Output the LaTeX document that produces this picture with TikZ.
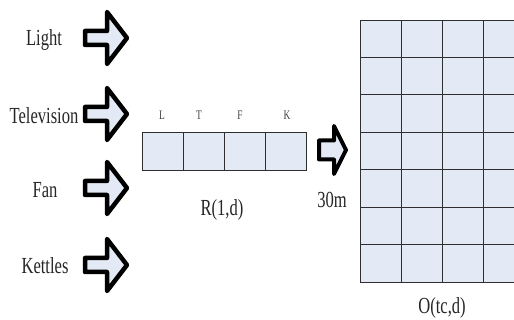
\documentclass[tikz,border=0pt]{standalone}
\usepackage{fontspec}
\setmainfont{Liberation Serif}
\definecolor{cellfill}{HTML}{E4EAF5}
\definecolor{gridline}{HTML}{2E2E2E}
\newcommand{\cond}[1]{\scalebox{0.72}[1]{#1}}
\begin{document}
\begin{tikzpicture}[x=1pt,y=-1pt,
  lbl/.style={inner sep=0pt, font=\fontsize{23}{23}\selectfont, text=black!85},
  small/.style={inner sep=0pt, font=\fontsize{13}{13}\selectfont, text=black!75},
  cell/.style={draw=gridline, fill=cellfill, line width=0.9pt, minimum width=41pt, inner sep=0pt, outer sep=0pt},
  arrowstyle/.style={draw=black, fill=cellfill, line width=4.5pt, line join=round},
  pics/bigarrow/.style={code={
    \draw[arrowstyle] (0,-7) -- (22,-7) -- (22,-26) -- (42,0) -- (22,26) -- (22,7) -- (0,7) -- cycle;}},
  pics/smallarrow/.style={code={
    \draw[arrowstyle, line width=4pt] (0,-9.5) -- (15,-9.5) -- (15,-24) -- (27,0) -- (15,24) -- (15,9.5) -- (0,9.5) -- cycle;}}
]
\useasboundingbox (0,0) rectangle (514,320);
\clip (0,0) rectangle (514,320);
\fill[white] (0,0) rectangle (514,320);

% labels left
\node[lbl] (light) at (44,40) {\cond{Light}};
\node[lbl] (tv) at (44,116) {\cond{Television}};
\node[lbl] (fan) at (45,190) {\cond{Fan}};
\node[lbl] (kettles) at (45,266) {\cond{Kettles}};

% block arrows
\pic at (85,38) {bigarrow};
\pic at (85,114) {bigarrow};
\pic at (85,188) {bigarrow};
\pic at (85,265) {bigarrow};

% R grid
\foreach \i/\lab/\lx in {0/L/162,1/T/199,2/F/240,3/K/287} {
  \node[cell, minimum height=38pt, anchor=north west] (r\i) at (142+41*\i,132) {};
  \node[small] (rl\i) at (\lx,115) {\cond{\lab}};
}
\node[lbl] (rlabel) at (222,210) {\cond{R(1,d)}};

% small arrow
\pic at (319,150) {smallarrow};
\node[lbl] (thirty) at (332,200) {\cond{30m}};

% O grid
\foreach \r in {0,...,6} {
  \foreach \c in {0,...,3} {
    \node[cell, minimum height=37.43pt, anchor=north west] (o\r\c) at (360+41*\c,20+37.43*\r) {};
  }
}
\node[lbl] (olabel) at (442,308) {\cond{O(tc,d)}};
\end{tikzpicture}
\end{document}
